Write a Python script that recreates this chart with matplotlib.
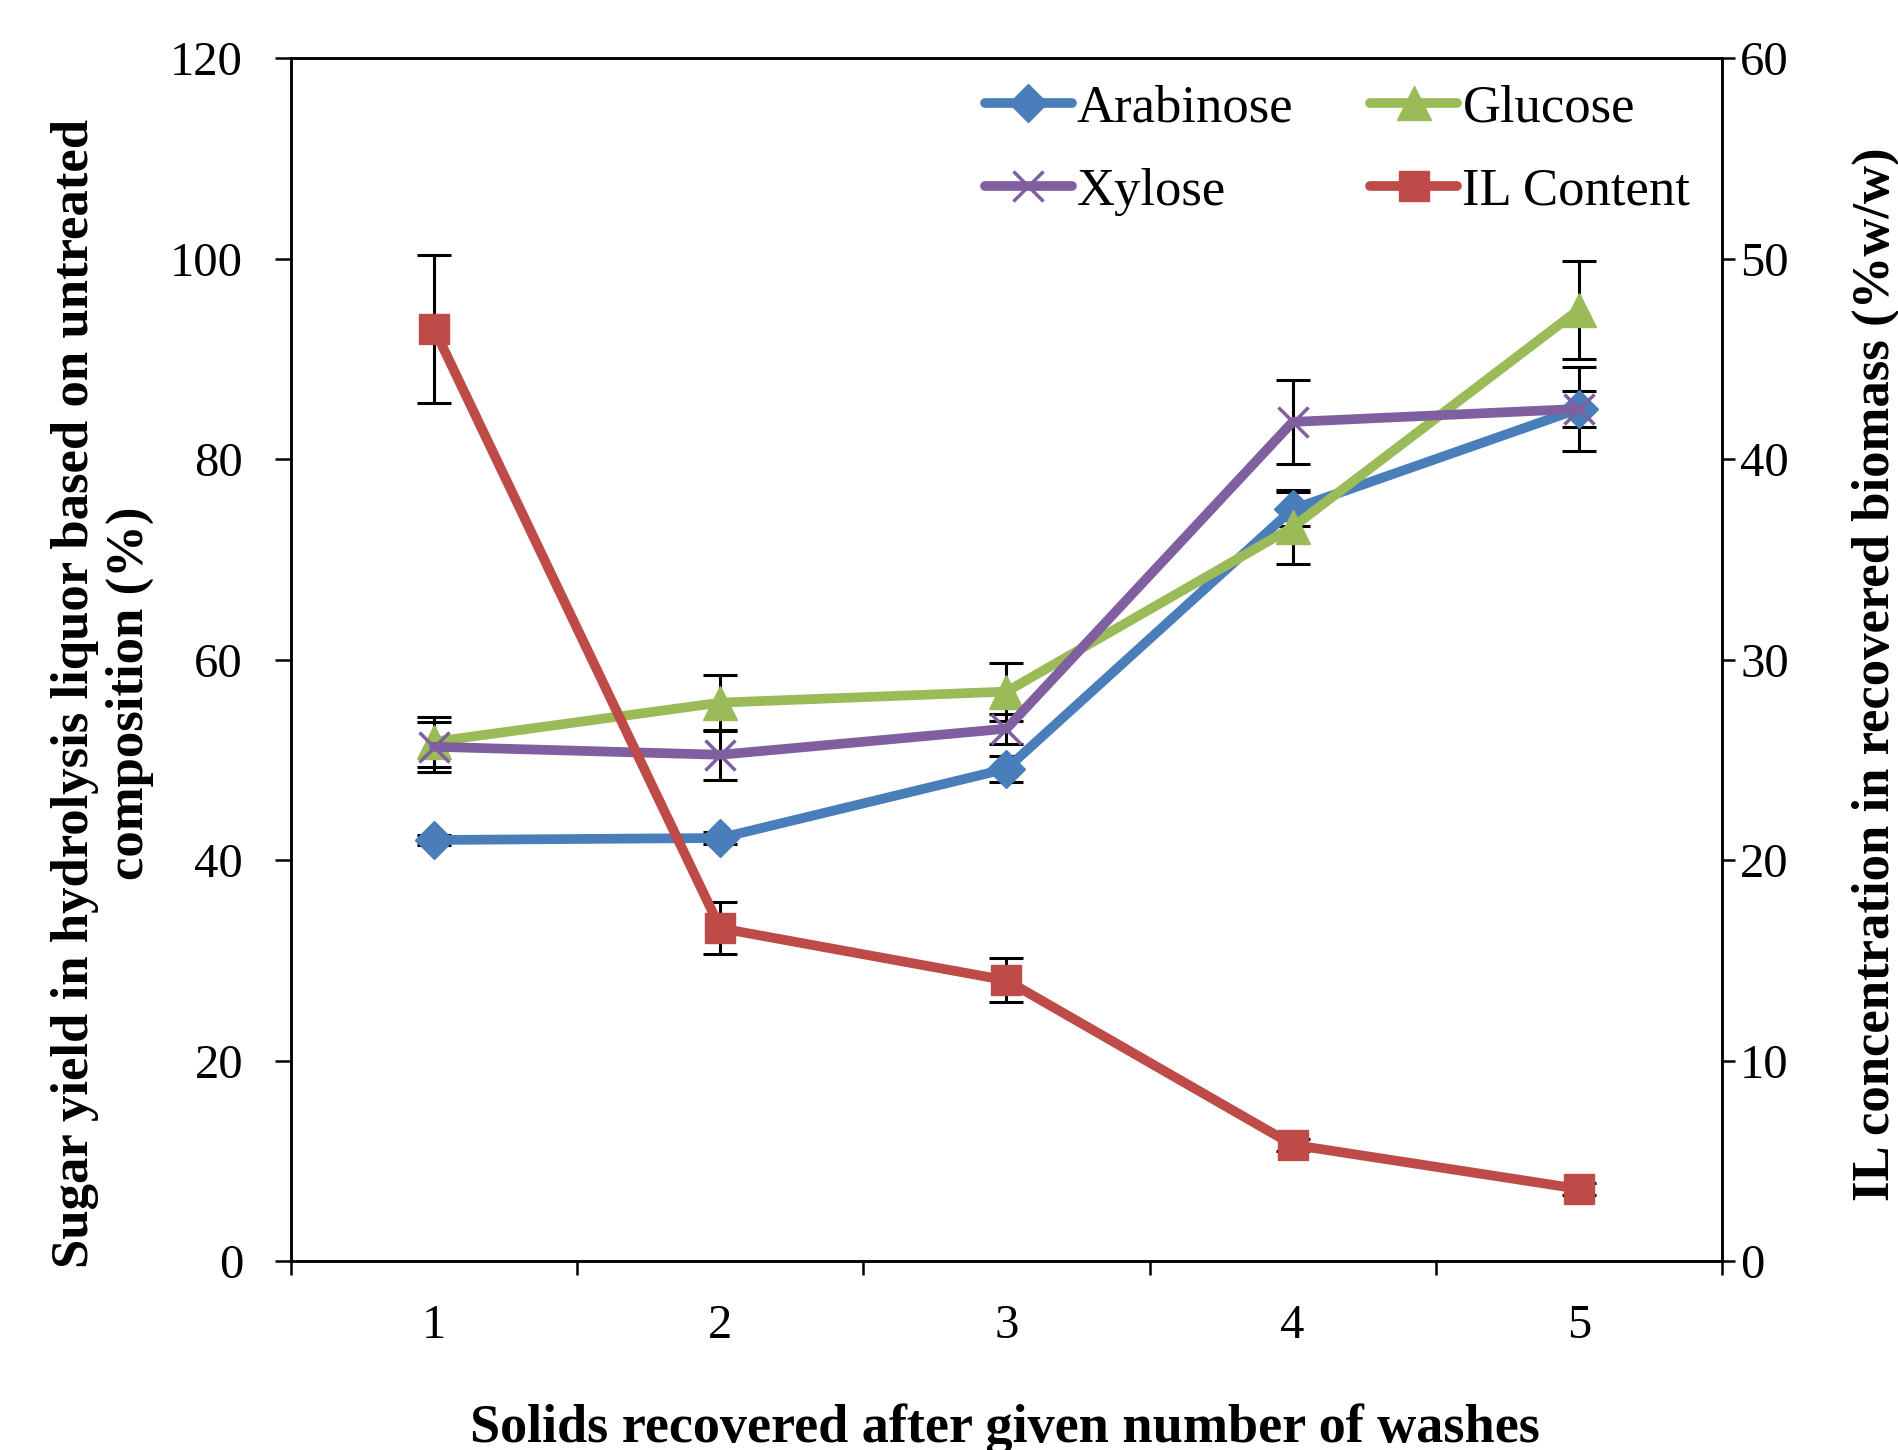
import numpy as np
import matplotlib
matplotlib.use('Agg')
import matplotlib.pyplot as plt
from matplotlib.ticker import MultipleLocator, FixedLocator

plt.rcParams['font.family'] = ['Liberation Serif', 'DejaVu Serif']

# data
washes = [1, 2, 3, 4, 5]
arabinose = [42.0, 42.2, 49.1, 75.0, 85.0]
arabinose_err = [0.5, 0.6, 1.3, 1.7, 1.8]
glucose = [51.8, 55.7, 56.8, 73.2, 94.9]
glucose_err = [2.5, 2.8, 2.9, 3.7, 4.9]
xylose = [51.3, 50.5, 53.1, 83.7, 85.0]
xylose_err = [2.5, 2.5, 1.5, 4.2, 4.2]
il_content = [46.5, 16.6, 14.0, 5.8, 3.6]
il_err = [3.7, 1.3, 1.1, 0.3, 0.3]

c_ara = '#4a7ebb'
c_glu = '#9bbb59'
c_xyl = '#7f5f9f'
c_il = '#be4b48'

fig = plt.figure(figsize=(18.99, 14.5), dpi=100)
ax = fig.add_axes([0.1532, 0.1303, 0.7536, 0.8297])
ax2 = ax.twinx()

eb_kw = dict(fmt='none', ecolor='black', elinewidth=2.2, capsize=12, capthick=2.2, zorder=1)
ax.errorbar(washes, arabinose, yerr=arabinose_err, **eb_kw)
ax.errorbar(washes, glucose, yerr=glucose_err, **eb_kw)
ax.errorbar(washes, xylose, yerr=xylose_err, **eb_kw)

l_ara, = ax.plot(washes, arabinose, color=c_ara, lw=7, marker='D', ms=19,
                 solid_capstyle='round', label='Arabinose', zorder=3)
l_glu, = ax.plot(washes, glucose, color=c_glu, lw=7, marker='^', ms=24,
                 solid_capstyle='round', label='Glucose', zorder=3)
l_xyl, = ax.plot(washes, xylose, color=c_xyl, lw=7, marker='x', ms=22, mew=2.5,
                 solid_capstyle='round', label='Xylose', zorder=3)

ax2.errorbar(washes, il_content, yerr=il_err, **eb_kw)
l_il, = ax2.plot(washes, il_content, color=c_il, lw=7, marker='s', ms=22,
                 solid_capstyle='round', label='IL Content', zorder=3)

ax.set_xlim(0.5, 5.5)
ax.set_ylim(0, 120)
ax2.set_ylim(0, 60)
ax.yaxis.set_major_locator(MultipleLocator(20))
ax2.yaxis.set_major_locator(MultipleLocator(10))
ax.set_xticks(washes)
ax.xaxis.set_minor_locator(FixedLocator(np.arange(0.5, 6.0, 1.0)))
ax.tick_params(axis='x', which='major', length=0, pad=31, labelsize=35)
ax.tick_params(axis='x', which='minor', length=10, width=1.8, direction='out')
ax.tick_params(axis='y', length=11.5, width=1.8, direction='out', pad=23, labelsize=35)
ax2.tick_params(axis='y', length=9, width=1.8, direction='out', pad=4, labelsize=35)

for a in (ax, ax2):
    for s in a.spines.values():
        s.set_linewidth(1.8)

fig.text(0.054, 0.522,
         'Sugar yield in hydrolysis liquor based on untreated\ncomposition (%)',
         rotation=90, ha='center', va='center', multialignment='center',
         fontsize=38, fontweight='bold', linespacing=1.2)
fig.text(0.988, 0.535, 'IL concentration in recovered biomass (%w/w)',
         rotation=90, ha='center', va='center', fontsize=38, fontweight='bold')
fig.text(0.529, 0.015, 'Solids recovered after given number of washes',
         ha='center', va='center', fontsize=39, fontweight='bold')

ax.legend(handles=[l_ara, l_xyl, l_glu, l_il], ncol=2, loc='upper right',
          bbox_to_anchor=(1.0, 1.004), frameon=False, fontsize=38,
          handlelength=1.65, handletextpad=0.1, columnspacing=1.45,
          labelspacing=0.66, borderaxespad=0.2)

fig.savefig('out.png', dpi=100)
